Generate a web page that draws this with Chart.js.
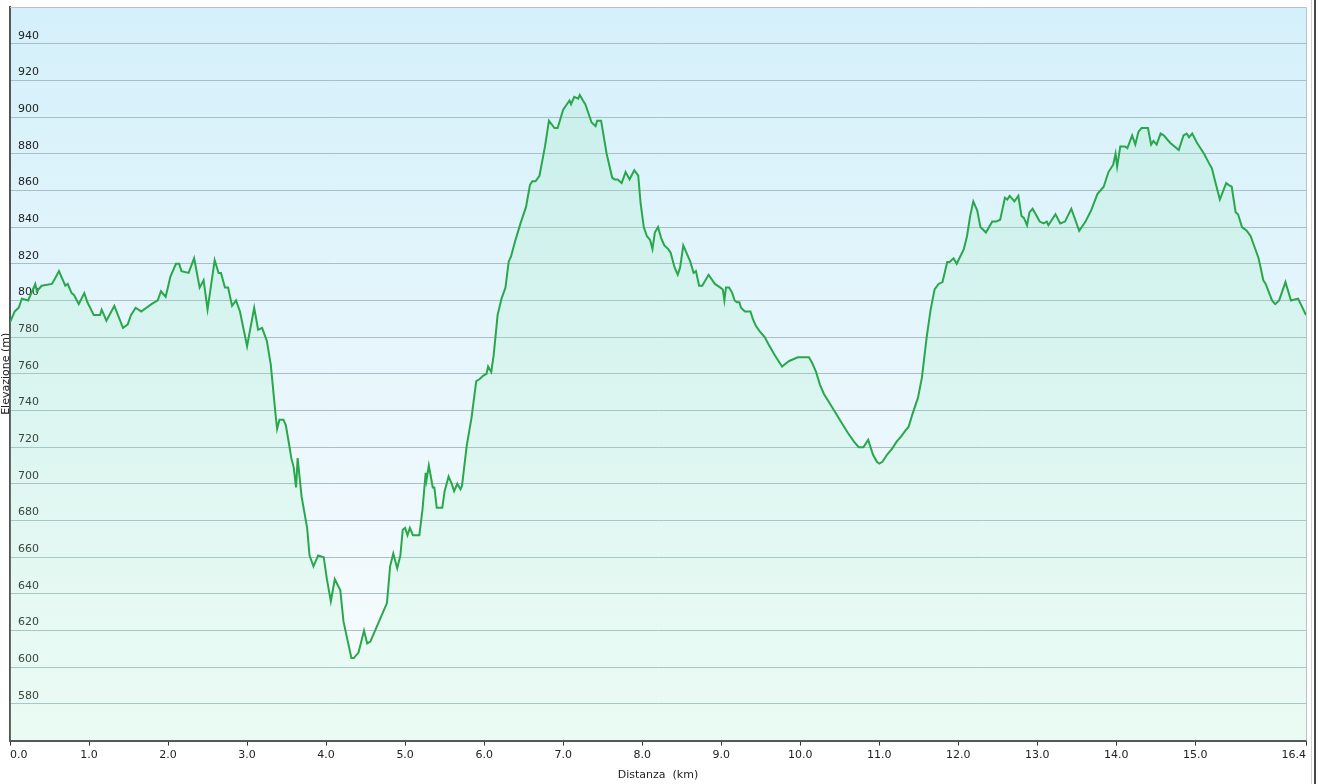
<!DOCTYPE html>
<html>
<head>
<meta charset="utf-8">
<title>Profilo altimetrico</title>
<script src="https://cdn.jsdelivr.net/npm/chart.js@4.4.1/dist/chart.umd.min.js"></script>
<style>
  html, body { margin: 0; padding: 0; background: #fff; }
  #wrap { width: 1320px; height: 784px; position: relative; }
</style>
</head>
<body>
<div id="wrap"><canvas id="profileChart"></canvas></div>
<script>
// distance along the track (km) and elevation (m)
const distanceKm = [
  0.00, 0.06, 0.11, 0.15, 0.23, 0.32, 0.34, 0.40, 0.53, 0.57, 0.62, 0.65, 0.70, 0.73, 0.78, 0.81, 0.87, 0.94, 0.98,
  1.06, 1.14, 1.16, 1.22, 1.32, 1.43, 1.49, 1.53, 1.59, 1.66, 1.79, 1.87, 1.91, 1.97,
  2.03, 2.10, 2.14, 2.17, 2.26, 2.33, 2.40, 2.45, 2.50, 2.59, 2.64, 2.67, 2.72, 2.76, 2.81, 2.86, 2.91,
  3.00, 3.09, 3.14, 3.19, 3.25, 3.30, 3.36, 3.38, 3.41, 3.44, 3.46, 3.49, 3.53, 3.56, 3.59, 3.62, 3.64, 3.69, 3.76, 3.79, 3.84, 3.90, 3.97,
  4.01, 4.06, 4.11, 4.18, 4.22, 4.28, 4.29, 4.32, 4.35, 4.41, 4.48, 4.52, 4.56, 4.77, 4.81, 4.85, 4.90, 4.94, 4.97,
  5.00, 5.03, 5.06, 5.10, 5.18, 5.22, 5.26, 5.27, 5.30, 5.35, 5.37, 5.40, 5.47, 5.50, 5.55, 5.59, 5.62, 5.66, 5.70, 5.72, 5.78, 5.84, 5.90, 5.94, 5.99,
  6.03, 6.05, 6.09, 6.12, 6.15, 6.17, 6.22, 6.27, 6.31, 6.34, 6.39, 6.46, 6.53, 6.58, 6.61, 6.65, 6.70, 6.77, 6.82, 6.89, 6.93,
  7.00, 7.08, 7.10, 7.14, 7.19, 7.21, 7.25, 7.28, 7.36, 7.41, 7.43, 7.48, 7.55, 7.62, 7.65, 7.69, 7.74, 7.79, 7.84, 7.90, 7.95, 7.98,
  8.02, 8.06, 8.10, 8.13, 8.16, 8.20, 8.24, 8.28, 8.33, 8.36, 8.41, 8.45, 8.48, 8.52, 8.55, 8.61, 8.65, 8.68, 8.72, 8.76, 8.84, 8.92, 8.99,
  9.02, 9.04, 9.06, 9.10, 9.14, 9.17, 9.20, 9.23, 9.25, 9.30, 9.37, 9.40, 9.44, 9.49, 9.55, 9.60, 9.68, 9.77, 9.86, 9.97,
  10.11, 10.15, 10.20, 10.25, 10.30, 10.40, 10.50, 10.60, 10.68, 10.74, 10.80, 10.86, 10.92, 10.97,
  11.00, 11.04, 11.10, 11.16, 11.22, 11.28, 11.33, 11.37, 11.42, 11.49, 11.54, 11.60, 11.65, 11.70, 11.75, 11.80, 11.86, 11.89, 11.94, 11.98,
  12.07, 12.11, 12.15, 12.19, 12.24, 12.28, 12.35, 12.43, 12.48, 12.53, 12.59, 12.62, 12.65, 12.71, 12.76, 12.80, 12.83, 12.87, 12.90, 12.94, 12.98,
  13.03, 13.08, 13.12, 13.14, 13.23, 13.29, 13.35, 13.43, 13.53, 13.61, 13.68, 13.76, 13.84, 13.90, 13.96, 13.99,
  14.01, 14.05, 14.11, 14.14, 14.20, 14.24, 14.28, 14.32, 14.40, 14.44, 14.47, 14.51, 14.56, 14.60, 14.68, 14.79, 14.85, 14.89, 14.92, 14.96,
  15.02, 15.11, 15.17, 15.21, 15.25, 15.31, 15.39, 15.42, 15.46, 15.51, 15.54, 15.59, 15.65, 15.70, 15.75, 15.80, 15.86, 15.89, 15.97,
  16.01, 16.06, 16.14, 16.21, 16.30, 16.40
];
const elevationM = [
  788, 794, 796, 801, 800, 809, 805, 808, 809, 812, 816, 813, 808, 809, 804, 803, 798, 804, 799,
  792, 792, 795, 789, 797, 785, 787, 792, 796, 794, 798, 800, 805, 802,
  813, 820, 820, 816, 815, 823, 807, 811, 795, 822, 815, 815, 807, 807, 797, 800, 794,
  775, 796, 784, 785, 778, 765, 738, 730, 735, 735, 735, 732, 722, 714, 709, 698, 714, 693, 676, 661, 655, 661, 660,
  648, 636, 648, 642, 625, 613, 611, 605, 605, 608, 620, 613, 614, 635, 655, 662, 654, 661, 675,
  676, 672, 676, 672, 672, 686, 706, 702, 710, 698, 698, 687, 687, 696, 704, 700, 696, 700, 697, 699, 721, 736, 756, 757, 759,
  760, 764, 761, 770, 783, 792, 801, 807, 821, 824, 832, 842, 851, 863, 865, 865, 868, 884, 898, 894, 894,
  904, 909, 907, 911, 910, 912, 909, 907, 897, 895, 898, 898, 880, 867, 866, 866, 864, 870, 866, 871, 868, 853,
  840, 835, 833, 828, 837, 840, 834, 830, 828, 826, 818, 814, 818, 830, 827, 821, 815, 816, 808, 808, 814, 809, 807,
  806, 800, 807, 807, 804, 800, 799, 799, 796, 794, 794, 790, 786, 783, 780, 776, 770, 764, 767, 769,
  769, 766, 761, 754, 749, 742, 735, 728, 723, 720, 720, 724, 716, 712,
  711, 712, 716, 719, 723, 726, 729, 731, 738, 747, 758, 780, 795, 806, 809, 810, 821, 821, 823, 820,
  828, 835, 846, 854, 849, 840, 837, 843, 843, 844, 856, 855, 857, 854, 857, 846, 845, 841, 848, 850, 847,
  843, 842, 843, 841, 847, 842, 843, 850, 838, 843, 849, 858, 862, 870, 874, 880,
  873, 884, 884, 883, 890, 885, 892, 894, 894, 885, 887, 885, 891, 890, 886, 882, 890, 891, 889, 891,
  886, 880, 875, 872, 865, 855, 864, 863, 862, 848, 847, 840, 838, 835, 829, 823, 811, 809, 800,
  798, 800, 810, 800, 801, 792
];
const xTickValues = [0, 1, 2, 3, 4, 5, 6, 7, 8, 9, 10, 11, 12, 13, 14, 15, 16.4];
const yTickValues = [580, 600, 620, 640, 660, 680, 700, 720, 740, 760, 780, 800, 820, 840, 860, 880, 900, 920, 940];

const labelFont = { family: 'DejaVu Sans', size: 11 };

// sky-like background behind the plot area plus frame lines
const plotBackground = {
  id: 'plotBackground',
  beforeDraw(chart) {
    const { ctx, chartArea: a } = chart;
    const g = ctx.createLinearGradient(0, a.top, 0, a.bottom);
    g.addColorStop(0, '#d4f0fa');
    g.addColorStop(0.8, '#f3fafd');
    g.addColorStop(1, '#f6fcfd');
    ctx.save();
    ctx.fillStyle = g;
    ctx.fillRect(a.left, a.top, a.right - a.left, a.bottom - a.top);
    ctx.restore();
  },
  afterDraw(chart) {
    const { ctx, chartArea: a } = chart;
    ctx.save();
    ctx.strokeStyle = '#b9c3c7';
    ctx.lineWidth = 1;
    ctx.beginPath();
    ctx.moveTo(a.left, a.top + 0.5);
    ctx.lineTo(a.right + 0.5, a.top + 0.5);
    ctx.lineTo(a.right + 0.5, a.bottom);
    ctx.stroke();
    ctx.fillStyle = '#d0d0d0';
    ctx.fillRect(1311, 0, 1, chart.height);
    ctx.fillStyle = '#4a4a4a';
    ctx.fillRect(1314, 0, 2, chart.height);
    ctx.restore();
  }
};

const ctx = document.getElementById('profileChart').getContext('2d');
new Chart(ctx, {
  type: 'line',
  data: {
    datasets: [{
      label: 'Elevazione',
      data: distanceKm.map((d, i) => ({ x: d, y: elevationM[i] })),
      borderColor: '#28a74b',
      borderWidth: 2,
      pointRadius: 0,
      tension: 0,
      fill: 'start',
      backgroundColor(context) {
        const area = context.chart.chartArea;
        if (!area) return 'rgba(150,235,185,0.2)';
        const g = context.chart.ctx.createLinearGradient(0, area.top, 0, area.bottom);
        g.addColorStop(0, 'rgba(140,230,175,0.2)');
        g.addColorStop(1, 'rgba(170,245,195,0.16)');
        return g;
      }
    }]
  },
  options: {
    responsive: true,
    maintainAspectRatio: false,
    animation: false,
    devicePixelRatio: 1,
    layout: { padding: { top: 7, right: 14, bottom: 2, left: 0 } },
    plugins: {
      legend: { display: false },
      tooltip: { enabled: false }
    },
    scales: {
      x: {
        type: 'linear',
        min: 0,
        max: 16.4,
        afterBuildTicks(scale) { scale.ticks = xTickValues.map(v => ({ value: v })); },
        ticks: {
          callback: v => Number(v).toFixed(1),
          font: labelFont,
          color: '#222',
          padding: 3,
          align: 'inner',
          maxRotation: 0,
          autoSkip: false
        },
        grid: { drawOnChartArea: false, drawTicks: true, tickLength: 5, color: '#333' },
        border: { color: '#555', width: 2 },
        title: {
          display: true,
          text: 'Distanza  (km)',
          font: labelFont,
          color: '#222',
          padding: { top: 4, bottom: 0 }
        }
      },
      y: {
        min: 560,
        max: 960,
        afterBuildTicks(scale) { scale.ticks = yTickValues.map(v => ({ value: v })); },
        afterFit(scale) {
          scale.width = 10;
          scale.paddingTop = 0;
          scale.paddingBottom = 0;
        },
        ticks: {
          mirror: true,
          padding: 8,
          labelOffset: -8,
          font: labelFont,
          color: '#222'
        },
        grid: { color: '#a9bec6', lineWidth: 1, drawTicks: false },
        border: { color: '#555', width: 2 },
        title: {
          display: true,
          text: 'Elevazione (m)',
          font: labelFont,
          color: '#222',
          padding: 0
        }
      }
    }
  },
  plugins: [plotBackground]
});
</script>
</body>
</html>
